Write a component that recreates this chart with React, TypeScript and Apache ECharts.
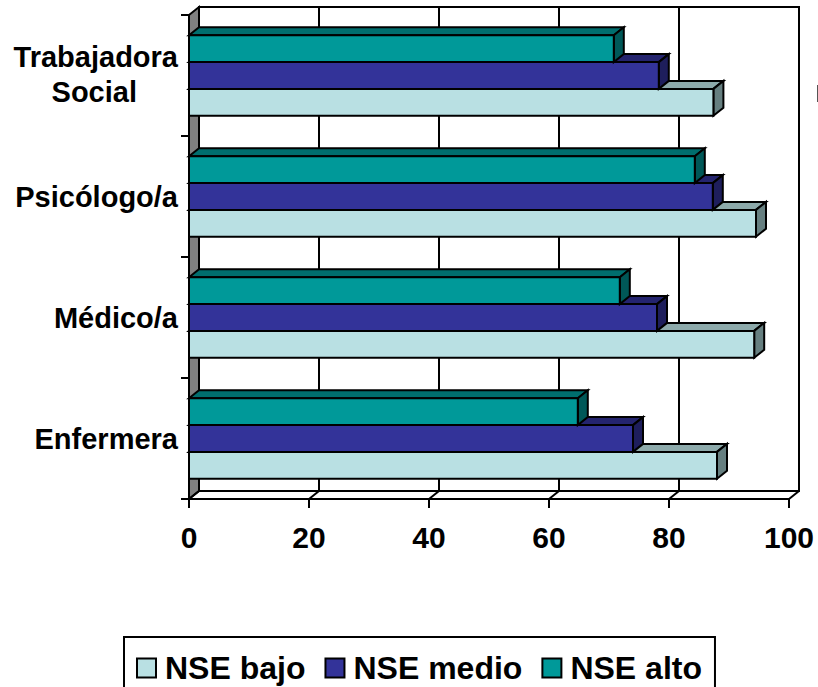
import React, { useEffect, useRef } from "react";
import * as echarts from "echarts";

const categories = ["Enfermera", "Médico/a", "Psicólogo/a", "Trabajadora\nSocial"];
const seriesNames = ["NSE bajo", "NSE medio", "NSE alto"];
const nseBajo = [88, 94.2, 94.5, 87.4];
const nseMedio = [74, 78, 87.3, 78.3];
const nseAlto = [64.8, 71.8, 84.3, 70.8];
const xTicks = [0, 20, 40, 60, 80, 100];
const seriesValues = [nseBajo, nseMedio, nseAlto];
const frontColors = ["#B9E0E3", "#333399", "#009999"];
const topColors = ["#8DAAAB", "#24246E", "#006E6E"];
const sideColors = ["#667F80", "#1E1E5C", "#005858"];

const DX = 10;
const DY = -8;
const FONT = "'Liberation Sans', Arial, sans-serif";

function App() {
  const ref = useRef<HTMLDivElement>(null);
  useEffect(() => {
    const chart = echarts.init(ref.current!, null, { renderer: "svg" });
    const stroke = { stroke: "#000", lineWidth: 2, lineJoin: "miter" };

    const barSeries = seriesValues.map((values, s) => ({
      type: "custom",
      name: seriesNames[s],
      xAxisIndex: 0,
      yAxisIndex: 0,
      z: 5,
      clip: false,
      itemStyle: { color: frontColors[s], borderColor: "#000", borderWidth: 2 },
      encode: { x: 0, y: 1 },
      data: values.map((v, i) => [v, i]),
      renderItem: (_p: any, api: any) => {
        const end = api.coord([api.value(0), api.value(1)]);
        const start = api.coord([0, api.value(1)]);
        const band = api.size([0, 1])[1];
        const h = (band * 26.8) / 121;
        const yTop = end[1] - (s - 1) * h - h / 2;
        const yBot = yTop + h;
        const x0 = start[0];
        const x1 = end[0];
        return {
          type: "group",
          children: [
            {
              type: "polygon",
              shape: { points: [[x0, yTop], [x0 + DX, yTop + DY], [x1 + DX, yTop + DY], [x1, yTop]] },
              style: { fill: topColors[s], ...stroke },
            },
            {
              type: "polygon",
              shape: { points: [[x1, yTop], [x1 + DX, yTop + DY], [x1 + DX, yBot + DY], [x1, yBot]] },
              style: { fill: sideColors[s], ...stroke },
            },
            {
              type: "rect",
              shape: { x: x0, y: yTop, width: x1 - x0, height: h },
              style: { fill: frontColors[s], ...stroke },
            },
          ],
        };
      },
    }));

    const wallSeries = {
      type: "custom",
      name: "walls",
      xAxisIndex: 0,
      yAxisIndex: 0,
      z: 3,
      clip: false,
      silent: true,
      encode: { x: 0 },
      data: xTicks.map((t) => [t]),
      renderItem: (_p: any, api: any) => {
        const v = api.value(0);
        const band = api.size([0, 1])[1];
        const p = api.coord([v, 0]);
        const bottom = p[1] + band / 2;
        const children: any[] = [
          {
            type: "line",
            shape: { x1: p[0], y1: bottom, x2: p[0] + DX, y2: bottom + DY },
            style: { ...stroke },
          },
        ];
        if (v === 0) {
          const top = bottom - band * categories.length;
          children.unshift({
            type: "polygon",
            shape: { points: [[p[0], top], [p[0] + DX, top + DY], [p[0] + DX, bottom + DY], [p[0], bottom]] },
            style: { fill: "#808080", ...stroke },
          });
        }
        return { type: "group", children };
      },
    };

    chart.setOption({
      animation: false,
      backgroundColor: "#fff",
      grid: [
        { left: 189, top: 15, width: 600, height: 484, containLabel: false, z: 4 },
        {
          left: 199,
          top: 7,
          width: 600,
          height: 484,
          show: true,
          borderColor: "#000",
          borderWidth: 2,
          backgroundColor: "#fff",
          z: 1,
        },
      ],
      xAxis: [
        {
          type: "value",
          gridIndex: 0,
          min: 0,
          max: 100,
          interval: 20,
          splitLine: { show: false },
          axisLine: { show: true, lineStyle: { color: "#000", width: 2 } },
          axisTick: { show: true, length: 9, lineStyle: { color: "#000", width: 2 } },
          axisLabel: {
            show: true,
            margin: 23,
            color: "#000",
            fontFamily: FONT,
            fontWeight: "bold",
            fontSize: 30,
            hideOverlap: false,
            showMinLabel: true,
            showMaxLabel: true,
          },
          z: 6,
        },
        {
          type: "value",
          gridIndex: 1,
          min: 0,
          max: 100,
          interval: 20,
          axisLine: { show: false },
          axisTick: { show: false },
          axisLabel: { show: false },
          splitLine: { show: true, lineStyle: { color: "#000", width: 2 } },
          z: 1,
        },
      ],
      yAxis: [
        {
          type: "category",
          gridIndex: 0,
          data: categories,
          axisLine: { show: true, lineStyle: { color: "#000", width: 2 } },
          axisTick: { show: true, length: 8, lineStyle: { color: "#000", width: 2 } },
          axisLabel: {
            margin: 11,
            color: "#000",
            fontFamily: FONT,
            fontWeight: "bold",
            fontSize: 29,
            align: "right",
            lineHeight: 37,
            formatter: (value: string) => {
              const lines = value.split("\n");
              if (lines.length === 1) return `{a|${value}}`;
              return `{a|${lines[0]}}\n{b|${lines[1]}}`;
            },
            rich: {
              a: { fontFamily: FONT, fontWeight: "bold", fontSize: 29, lineHeight: 37, color: "#000" },
              b: {
                fontFamily: FONT,
                fontWeight: "bold",
                fontSize: 29,
                lineHeight: 37,
                color: "#000",
                padding: [0, 41, 4, 0],
              },
            },
          },
          z: 6,
        },
        {
          type: "category",
          gridIndex: 1,
          data: categories,
          axisLine: { show: false },
          axisTick: { show: false },
          axisLabel: { show: false },
          splitLine: { show: false },
          z: 1,
        },
      ],
      legend: {
        left: 124,
        top: 637,
        orient: "horizontal",
        data: seriesNames,
        icon: "rect",
        itemWidth: 19,
        itemHeight: 19,
        itemGap: 19,
        padding: [15, 13, 20, 12],
        borderColor: "#000",
        borderWidth: 2,
        backgroundColor: "#fff",
        selectedMode: false,
        textStyle: {
          color: "#000",
          fontFamily: FONT,
          fontWeight: "bold",
          fontSize: 32,
          padding: [0, 0, 0, 4],
        },
        itemStyle: { borderColor: "#000", borderWidth: 2 },
      },
      graphic: [
        {
          type: "line",
          silent: true,
          shape: { x1: 817.5, y1: 85, x2: 817.5, y2: 102 },
          style: { stroke: "#555", lineWidth: 1 },
        },
      ],
      series: [wallSeries, ...barSeries],
    });
    return () => chart.dispose();
  }, []);
  return <div ref={ref} style={{ position: "fixed", left: 0, top: 0, width: 818, height: 687 }} />;
}

export default App;
